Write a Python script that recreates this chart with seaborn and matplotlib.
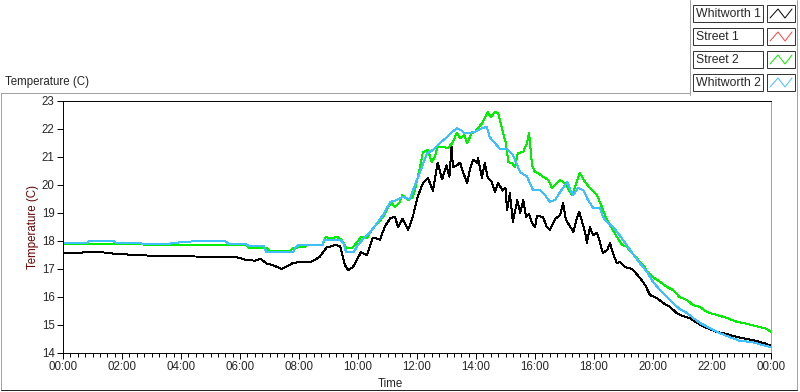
import numpy as np
import pandas as pd
import matplotlib
matplotlib.use("Agg")
import matplotlib.pyplot as plt
from matplotlib.lines import Line2D
from matplotlib.patches import Rectangle
from matplotlib.ticker import MultipleLocator
import seaborn as sns

# ---------------- data (hours since midnight, temperature in C) ----------------
series_names = ["Whitworth 1", "Street 1", "Street 2", "Whitworth 2"]
series_colors = ["#000000", "#ff4040", "#00ee00", "#40bfff"]

w1_hours = [0, 0.5, 0.9, 1.3, 1.8, 2.5, 3.3, 4.2, 5.0, 5.9, 6.2, 6.5, 6.7, 6.9, 7.2, 7.4, 7.6, 7.8,
            8.1, 8.4, 8.7, 8.95, 9.05, 9.25, 9.4, 9.45, 9.56, 9.66, 9.83, 10.0, 10.1, 10.3, 10.5,
            10.6, 10.75, 10.9, 11.1, 11.25, 11.36, 11.5, 11.7, 11.86, 11.93, 12.03, 12.2, 12.37,
            12.54, 12.7, 12.85, 13.0, 13.1, 13.17, 13.22, 13.35, 13.46, 13.56, 13.7, 13.8, 13.9,
            14.03, 14.07, 14.2, 14.3, 14.4, 14.54, 14.64, 14.75, 14.9, 15.0, 15.05, 15.15, 15.25,
            15.4, 15.5, 15.6, 15.7, 15.8, 15.9, 16.0, 16.07, 16.27, 16.4, 16.5, 16.7, 16.85,
            16.95, 17.05, 17.2, 17.3, 17.4, 17.5, 17.6, 17.7, 17.76, 17.86, 17.97, 18.1, 18.2,
            18.3, 18.45, 18.54, 18.64, 18.78, 18.88, 19.05, 19.3, 19.56, 19.73, 19.9, 20.13,
            20.34, 20.58, 20.8, 21.0, 21.25, 21.5, 21.83, 22.17, 22.5, 22.85, 23.2, 23.5, 23.86, 24.0]
w1_temps = [17.57, 17.57, 17.62, 17.6, 17.54, 17.5, 17.46, 17.45, 17.44, 17.42, 17.32, 17.3, 17.36,
            17.2, 17.1, 17.0, 17.1, 17.22, 17.25, 17.25, 17.43, 17.79, 17.8, 17.86, 17.8, 17.6,
            17.14, 16.96, 17.07, 17.4, 17.6, 17.5, 18.1, 18.1, 18.04, 18.5, 18.82, 18.86, 18.5,
            18.8, 18.4, 18.86, 19.2, 19.6, 20.07, 20.25, 19.8, 20.8, 20.2, 20.7, 20.3, 21.36,
            20.64, 20.7, 20.8, 20.46, 20.07, 20.6, 20.9, 20.8, 20.96, 20.25, 20.8, 20.25, 20.1,
            19.75, 20.07, 19.8, 19.9, 19.1, 19.7, 18.68, 19.46, 19.0, 19.46, 18.86, 18.95, 18.64,
            18.5, 18.9, 18.86, 18.5, 18.4, 18.8, 18.93, 19.36, 18.75, 18.5, 18.32, 18.75, 19.04,
            18.68, 18.29, 17.93, 18.5, 18.2, 18.3, 17.96, 17.57, 17.68, 17.93, 17.57, 17.2, 17.25,
            17.07, 17.0, 16.68, 16.43, 16.07, 15.96, 15.79, 15.64, 15.43, 15.32, 15.25, 15.07,
            14.89, 14.75, 14.68, 14.57, 14.5, 14.43, 14.32, 14.25]

s1_hours = []
s1_temps = []

s2_hours = [0, 2.7, 2.75, 6.2, 6.3, 6.9, 7.0, 7.7, 7.8, 8.2, 8.3, 8.8, 8.9, 9.05, 9.3, 9.45, 9.6,
            9.8, 9.95, 10.1, 10.3, 10.5, 10.7, 10.85, 11.0, 11.15, 11.25, 11.4, 11.5, 11.7, 11.86,
            11.93, 12.1, 12.2, 12.37, 12.5, 12.6, 12.7, 12.88, 13.05, 13.2, 13.35, 13.46, 13.6,
            13.7, 13.86, 13.97, 14.07, 14.2, 14.3, 14.4, 14.5, 14.64, 14.75, 14.88, 15.0, 15.1,
            15.22, 15.32, 15.42, 15.6, 15.73, 15.8, 15.9, 16.0, 16.1, 16.27, 16.45, 16.57, 16.68,
            16.85, 17.0, 17.1, 17.25, 17.35, 17.52, 17.7, 17.86, 18.1, 18.27, 18.44, 18.6, 18.78,
            18.95, 19.1, 19.3, 19.5, 19.7, 19.8, 20.0, 20.24, 20.47, 20.68, 20.9, 21.15, 21.36,
            21.6, 21.83, 22.17, 22.5, 22.85, 23.2, 23.5, 23.86, 24.0]
s2_temps = [17.9, 17.9, 17.86, 17.86, 17.75, 17.75, 17.64, 17.64, 17.75, 17.8, 17.86, 17.86, 18.14,
            18.1, 18.14, 18.04, 17.75, 17.75, 17.93, 18.14, 18.1, 18.46, 18.68, 18.86, 19.18,
            19.36, 19.2, 19.36, 19.64, 19.46, 19.57, 19.82, 20.64, 21.18, 21.25, 20.82, 21.0,
            21.36, 21.36, 21.32, 21.5, 21.86, 21.67, 21.78, 21.5, 21.86, 21.9, 22.03, 22.2, 22.39,
            22.6, 22.43, 22.6, 22.57, 22.03, 21.54, 20.82, 20.78, 20.64, 21.14, 21.18, 21.5,
            21.86, 20.7, 20.46, 20.43, 20.3, 20.18, 19.9, 20.0, 20.18, 20.07, 19.9, 19.64, 19.9,
            20.43, 20.1, 19.9, 19.64, 19.21, 18.75, 18.46, 18.14, 17.86, 17.8, 17.57, 17.32, 17.1,
            16.9, 16.71, 16.54, 16.36, 16.25, 16.0, 15.89, 15.71, 15.64, 15.46, 15.36, 15.25,
            15.11, 15.04, 14.96, 14.86, 14.75]

w2_hours = [0, 0.8, 0.9, 1.7, 1.8, 2.6, 2.7, 3.5, 4.0, 4.6, 5.5, 5.6, 6.2, 6.3, 6.8, 6.9, 7.8, 7.9,
            8.0, 8.8, 8.85, 9.4, 9.5, 9.6, 9.85, 10.0, 10.2, 10.4, 10.6, 10.85, 11.1, 11.3, 11.5,
            11.76, 11.93, 12.17, 12.34, 12.54, 12.78, 13.0, 13.2, 13.35, 13.5, 13.6, 13.8, 13.97,
            14.2, 14.37, 14.47, 14.64, 14.8, 15.05, 15.25, 15.5, 15.73, 15.93, 16.17, 16.34, 16.5,
            16.68, 16.85, 17.1, 17.2, 17.3, 17.46, 17.63, 17.8, 17.97, 18.2, 18.3, 18.44, 18.64,
            18.88, 19.1, 19.3, 19.56, 19.8, 20.0, 20.24, 20.47, 20.68, 20.9, 21.15, 21.36, 21.6,
            21.93, 22.27, 22.6, 22.95, 23.3, 23.6, 24.0]
w2_temps = [17.93, 17.93, 18.0, 18.0, 17.93, 17.93, 17.89, 17.89, 17.96, 18.0, 18.0, 17.9, 17.9,
            17.82, 17.82, 17.6, 17.6, 17.8, 17.86, 17.86, 18.04, 18.04, 17.93, 17.6, 17.6, 17.86,
            18.1, 18.3, 18.57, 18.93, 19.4, 19.46, 19.57, 19.5, 20.0, 20.64, 21.14, 21.25, 21.5,
            21.7, 21.9, 22.03, 21.96, 21.86, 21.86, 21.9, 22.03, 22.07, 21.7, 21.5, 21.3, 21.3,
            21.07, 20.46, 20.3, 19.82, 19.82, 19.64, 19.4, 19.46, 19.75, 20.1, 19.82, 19.64, 19.9,
            19.82, 19.46, 19.18, 19.18, 18.86, 18.68, 18.5, 18.2, 17.86, 17.57, 17.2, 16.9, 16.54,
            16.25, 16.0, 15.78, 15.57, 15.43, 15.25, 15.07, 14.89, 14.71, 14.57, 14.43, 14.4,
            14.32, 14.21]

x_tick_hours = list(range(0, 25, 2))
x_tick_labels = ["00:00", "02:00", "04:00", "06:00", "08:00", "10:00", "12:00",
                 "14:00", "16:00", "18:00", "20:00", "22:00", "00:00"]
y_ticks = list(range(14, 24))

# ---------------- build long-form table ----------------
frames = []
for name, hrs, tmp in zip(series_names,
                          [w1_hours, s1_hours, s2_hours, w2_hours],
                          [w1_temps, s1_temps, s2_temps, w2_temps]):
    frames.append(pd.DataFrame({"hour": hrs, "temp": tmp, "series": name}))
df = pd.concat(frames, ignore_index=True)

# ---------------- style ----------------
sns.set_style("white")
plt.rcParams["font.family"] = ["Liberation Sans", "DejaVu Sans"]
plt.rcParams["font.size"] = 8.3

LW = 0.7  # ~1 px at 100 dpi

W, H = 800, 392
fig = plt.figure(figsize=(W / 100, H / 100), dpi=100)
fig.patch.set_facecolor("white")


def fx(px):
    return px / W


def fy(py):
    return 1 - py / H


ax = fig.add_axes([fx(63), fy(353), fx(771) - fx(63), fy(101) - fy(353)])

sns.lineplot(data=df, x="hour", y="temp", hue="series", hue_order=series_names,
             palette=dict(zip(series_names, series_colors)), estimator=None,
             sort=False, linewidth=LW, legend=False, ax=ax)
for ln in ax.get_lines():
    ln.set_antialiased(False)

ax.set_xlim(0, 24)
ax.set_ylim(14, 23)
ax.set_xticks(x_tick_hours)
ax.set_xticklabels(x_tick_labels)
ax.xaxis.set_minor_locator(MultipleLocator(0.25))
ax.set_yticks(y_ticks)
ax.set_yticklabels([str(v) for v in y_ticks])
ax.tick_params(axis="both", which="major", direction="out", length=4, width=LW,
               color="black", labelsize=8.3, pad=2, bottom=True, left=True)
ax.tick_params(axis="x", which="minor", direction="out", length=3, width=LW,
               color="black", bottom=True)
ax.set_xlabel("")
ax.set_ylabel("")
for side in ["top", "left", "bottom"]:
    ax.spines[side].set_color("black")
    ax.spines[side].set_linewidth(LW)
ax.spines["right"].set_color("#a0a0a0")
ax.spines["right"].set_linewidth(LW)

# labels
fig.text(fx(5), fy(82), "Temperature (C)", ha="left", va="center", fontsize=8.3)
fig.text(fx(33), fy(227), "Temperature (C)", ha="center", va="center",
         rotation=90, fontsize=8.3, color="#6a0000")
fig.text(fx(390), fy(384), "Time", ha="center", va="center", fontsize=8.3)

# outer panel frame
frame_col = "#a0a0a0"
fig.add_artist(Line2D([fx(1), fx(690)], [fy(93), fy(93)], color=frame_col, lw=LW))
fig.add_artist(Line2D([fx(690), fx(690)], [fy(0), fy(95)], color=frame_col, lw=LW))
fig.add_artist(Line2D([fx(1), fx(1)], [fy(93), fy(390)], color=frame_col, lw=LW))
fig.add_artist(Line2D([fx(797), fx(797)], [fy(0), fy(390)], color=frame_col, lw=LW))
fig.add_artist(Line2D([fx(1), fx(797)], [fy(390), fy(390)], color="#202020", lw=LW))

# legend (LabVIEW style plot legend)
for i, (name, col) in enumerate(zip(series_names, series_colors)):
    top = 5 + 23 * i
    hgt = 17
    fig.add_artist(Rectangle((fx(693), fy(top + hgt)), fx(763) - fx(693), fy(top) - fy(top + hgt),
                             facecolor="white", edgecolor="#303030", lw=LW))
    fig.text(fx(696), fy(top + hgt / 2 + 0.5), name, ha="left", va="center", fontsize=8.8)
    fig.add_artist(Rectangle((fx(767), fy(top + hgt)), fx(795) - fx(767), fy(top) - fy(top + hgt),
                             facecolor="white", edgecolor="#303030", lw=LW))
    zx = [770, 778, 785, 792]
    zy = [top + 13, top + 4, top + 13, top + 4]
    fig.add_artist(Line2D([fx(v) for v in zx], [fy(v) for v in zy], color=col, lw=LW))

fig.savefig("out.png", dpi=100, facecolor="white")
